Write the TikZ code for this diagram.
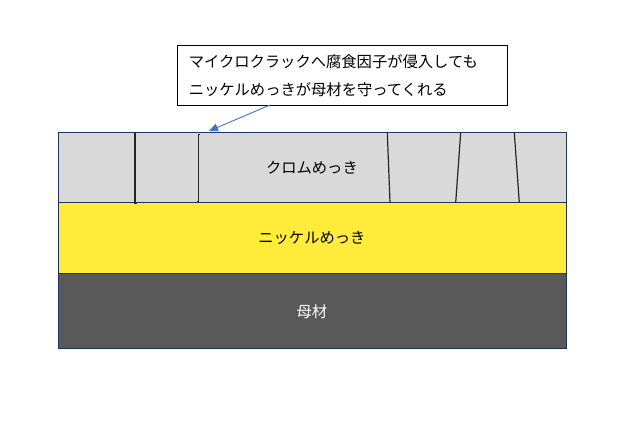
\documentclass[tikz,border=0pt]{standalone}
\usepackage{fontspec}
\setmainfont{Noto Sans CJK JP}
\usetikzlibrary{arrows.meta}
\definecolor{chromegray}{HTML}{D9D9D9}
\definecolor{nickelyellow}{HTML}{FFEC3A}
\definecolor{basegray}{HTML}{595959}
\definecolor{edgenavy}{HTML}{1F3458}
\definecolor{arrowblue}{HTML}{4472C4}
\definecolor{crackgray}{HTML}{262626}
\tikzset{
  layer/.style={draw=edgenavy, line width=0.8pt, rectangle, anchor=north west,
    minimum width=508pt, inner sep=0pt, font=\fontsize{15.3pt}{18pt}\selectfont},
  calloutbox/.style={draw=black, line width=0.9pt, rectangle, anchor=north west,
    minimum width=330.6pt, minimum height=59.7pt, inner xsep=11.6pt, inner ysep=0pt,
    text width=307.4pt, align=left, font=\fontsize{15.3pt}{27.7pt}\selectfont},
  crackline/.style={draw=crackgray, line width=1.2pt},
  pointer/.style={draw=arrowblue, line width=0.9pt, -{Triangle[length=9pt,width=8pt]}}
}
\begin{document}
\begin{tikzpicture}[x=1pt,y=-1pt]
\useasboundingbox (0,0) rectangle (624,422);
\node[layer, fill=basegray, text=white, minimum height=75pt] (base) at (57.5,273.3) {母材};
\node[layer, fill=nickelyellow, minimum height=70.8pt] (nickel) at (57.5,202.5) {ニッケルめっき};
\node[layer, fill=chromegray, minimum height=70pt] (chrome) at (57.5,132.5) {クロムめっき};
% cracks
\draw[crackline] (133.3,132.8) -- (135,132.8) -- (135,203.8) -- (137,203.8);
\draw[crackline] (199.8,134.3) -- (198.3,134.3) -- (198.3,201.6) -- (196.8,201.6);
\draw[crackline] (387.3,132.5) -- (390,202.5);
\draw[crackline] (460.7,132.5) -- (455.7,202.5);
\draw[crackline] (514.3,132.5) -- (519.3,202.5);
% callout
\node[calloutbox] (note) at (176.7,45.3) {\raisebox{-2pt}{マイクロクラックへ腐食因子が侵入しても}\\\raisebox{-2pt}{ニッケルめっきが母材を守ってくれる}};
\coordinate (tip) at (209,131);
\draw[pointer] (270,105) -- (tip);
\end{tikzpicture}
\end{document}
